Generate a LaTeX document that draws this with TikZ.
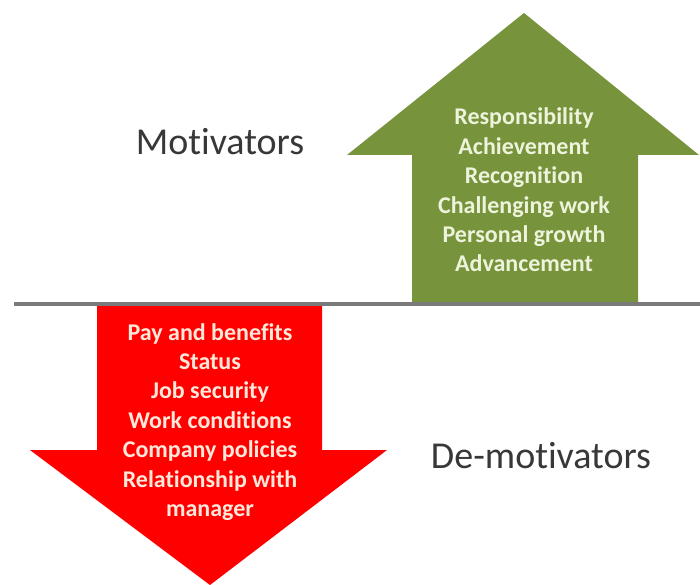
\documentclass[tikz,border=0pt]{standalone}
\usepackage{fontspec}
\setmainfont[Ligatures=NoCommon]{Carlito}
\begin{document}
\begin{tikzpicture}[x=1pt,y=-1pt,
  lst/.style={font=\bfseries\fontsize{24}{29.4}\selectfont, align=center, inner sep=0pt},
  big/.style={font=\fontsize{38}{42}\selectfont, text=black!78, inner sep=0pt}]
\useasboundingbox (0,0) rectangle (700,585);
\definecolor{olive}{HTML}{77933C}
\definecolor{paleg}{HTML}{EEF4DC}
\definecolor{paler}{HTML}{FFE8DA}
% green arrow
\fill[olive] (412,302) -- (412,155) -- (347,155) -- (524,13) -- (699,155) -- (638,155) -- (638,302) -- cycle;
% red arrow
\fill[red] (97,303) -- (322,303) -- (322,450) -- (387,450) -- (210,585) -- (30,450) -- (97,450) -- cycle;
% line
\draw[line width=4pt, black!52] (14,304) -- (700,304);
\node[lst, text=paleg] (mot) at (524,190) {Responsibility\\Achievement\\Recognition\\Challenging work\\Personal growth\\Advancement};
\node[lst, text=paler] (dem) at (210,422) {Pay and benefits\\Status\\Job security\\Work conditions\\Company policies\\Relationship with\\manager};
\node[big] (m) at (220,142) {Motivators};
\node[big] (d) at (541,456) {De-motivators};
\end{tikzpicture}
\end{document}
